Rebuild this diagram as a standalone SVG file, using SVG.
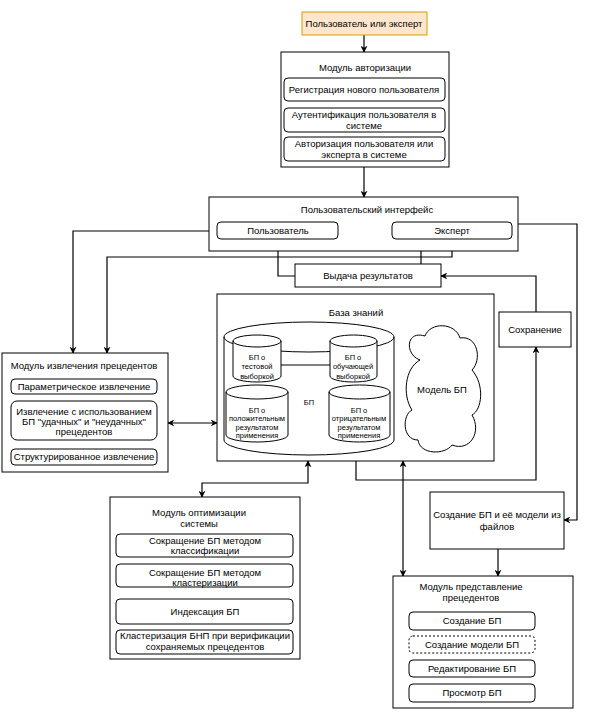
<svg xmlns="http://www.w3.org/2000/svg" width="589" height="714" viewBox="0 0 589 714">
<defs>
<style>
.b{fill:#fff;stroke:#000;stroke-width:1}
.r{fill:#fff;stroke:#000;stroke-width:1}
.d{fill:#fff;stroke:#000;stroke-width:1;stroke-dasharray:2 2}
.c{fill:none;stroke:#000;stroke-width:1.2}
text{font-family:"Liberation Sans",Arial,sans-serif;font-size:9.5px;fill:#000;text-anchor:middle}
.s{font-size:7.5px}
</style>
<marker id="a" viewBox="0 0 10 10" refX="9" refY="5" markerWidth="7" markerHeight="7" orient="auto-start-reverse" markerUnits="userSpaceOnUse">
<path d="M0,0 L10,5 L0,10 L3,5 Z" fill="#000"/>
</marker>
</defs>
<rect width="589" height="714" fill="#fff"/>

<g id="connectors">
<path class="c" d="M364,35 V52" marker-end="url(#a)"/>
<path class="c" d="M364,167 V197" marker-end="url(#a)"/>
<path class="c" d="M217,231 H73 V353" marker-end="url(#a)"/>
<path class="c" d="M452,239 V257 H107 V353" marker-end="url(#a)"/>
<path class="c" d="M295,276 H278 V239" marker-end="url(#a)"/>
<path class="c" d="M421,264 V239" marker-end="url(#a)"/>
<path class="c" d="M536,312 V276 H441" marker-end="url(#a)"/>
<path class="c" d="M356,461 V480 H536 V347" marker-end="url(#a)"/>
<path class="c" d="M518,224 H577 V520 H564" marker-end="url(#a)"/>
<path class="c" d="M168,423 H217" marker-start="url(#a)" marker-end="url(#a)"/>
<path class="c" d="M308,461 V483 H202 V497" marker-start="url(#a)" marker-end="url(#a)"/>
<path class="c" d="M403,461 V576" marker-start="url(#a)" marker-end="url(#a)"/>
<path class="c" d="M498,549 V576" marker-end="url(#a)"/>
</g>

<g id="user-or-expert">
<rect x="302" y="12" width="125" height="23" fill="#ffe6cc" stroke="#d79b00"/>
<text x="364" y="27">Пользователь или эксперт</text>
</g>

<g id="auth-module">
<rect class="b" x="281" y="52" width="168" height="115"/>
<text x="365" y="71">Модуль авторизации</text>
<rect class="r" x="284" y="78" width="161" height="23" rx="4"/>
<text x="364" y="93">Регистрация нового пользователя</text>
<rect class="r" x="284" y="108" width="161" height="24" rx="4"/>
<text x="364" y="118">Аутентификация пользователя в</text>
<text x="364" y="129">системе</text>
<rect class="r" x="284" y="137" width="161" height="24" rx="4"/>
<text x="364" y="147">Авторизация пользователя или</text>
<text x="364" y="158">эксперта в системе</text>
</g>

<g id="ui">
<rect class="b" x="209" y="197" width="309" height="54"/>
<text x="367" y="213">Пользовательский интерфейс</text>
<rect class="r" x="217" y="222" width="121" height="17" rx="4"/>
<text x="278" y="234">Пользователь</text>
<rect class="r" x="392" y="222" width="120" height="17" rx="4"/>
<text x="452" y="234">Эксперт</text>
</g>

<g id="results">
<rect class="b" x="295" y="264" width="146" height="23"/>
<text x="368" y="279">Выдача результатов</text>
</g>

<g id="save">
<rect class="b" x="499" y="312" width="72" height="35"/>
<text x="535" y="333">Сохранение</text>
</g>

<g id="extraction-module">
<rect class="b" x="2" y="353" width="166" height="119"/>
<text x="84" y="369">Модуль извлечения прецедентов</text>
<rect class="r" x="11" y="379" width="146" height="15" rx="4"/>
<text x="84" y="390">Параметрическое извлечение</text>
<rect class="r" x="11" y="401" width="146" height="39" rx="6"/>
<text x="84" y="415">Извлечение с использованием</text>
<text x="84" y="425">БП "удачных" и "неудачных"</text>
<text x="84" y="435">прецедентов</text>
<rect class="r" x="11" y="449" width="146" height="16" rx="4"/>
<text x="84" y="460">Структурированное извлечение</text>
</g>

<g id="knowledge-base">
<rect class="b" x="217" y="294" width="277" height="167"/>
<text x="356" y="316">База знаний</text>
<path class="b" d="M224,337 A85,15 0 0 1 394,337 V440 A85,15 0 0 1 224,440 Z"/>
<path class="c" style="stroke-width:1" d="M224,337 A85,15 0 0 0 394,337"/>
<text x="309" y="405" class="s">БП</text>
<line x1="281" y1="365" x2="330" y2="365" stroke="#000"/>
<path class="b" d="M233,341 A24,6 0 0 1 281,341 V376 A24,6 0 0 1 233,376 Z"/>
<path fill="none" stroke="#000" d="M233,341 A24,6 0 0 0 281,341"/>
<text class="s" x="257" y="360">БП о</text>
<text class="s" x="257" y="369">тестовой</text>
<text class="s" x="257" y="379">выборкой</text>
<path class="b" d="M330,341 A23.5,6 0 0 1 377,341 V376 A23.5,6 0 0 1 330,376 Z"/>
<path fill="none" stroke="#000" d="M330,341 A23.5,6 0 0 0 377,341"/>
<text class="s" x="353" y="360">БП о</text>
<text class="s" x="353" y="369">обучающей</text>
<text class="s" x="353" y="379">выборкой</text>
<path class="b" d="M226,392 A31,7 0 0 1 288,392 V435 A31,7 0 0 1 226,435 Z"/>
<path fill="none" stroke="#000" d="M226,392 A31,7 0 0 0 288,392"/>
<text class="s" x="257" y="413">БП о</text>
<text class="s" x="257" y="421">положительным</text>
<text class="s" x="257" y="430">результатом</text>
<text class="s" x="257" y="438">применения</text>
<path class="b" d="M329,392 A30.5,7 0 0 1 390,392 V435 A30.5,7 0 0 1 329,435 Z"/>
<path fill="none" stroke="#000" d="M329,392 A30.5,7 0 0 0 390,392"/>
<text class="s" x="359" y="413">БП о</text>
<text class="s" x="359" y="421">отрицательным</text>
<text class="s" x="359" y="430">результатом</text>
<text class="s" x="359" y="438">применения</text>
<path class="b" d="M420,360 C405,355 405,330 425,336 C430,322 455,322 460,338 C478,335 482,360 472,370 C485,385 482,410 472,415 C482,432 470,452 452,445 C445,455 420,455 418,440 C402,440 402,415 412,410 C402,395 405,368 420,360 Z"/>
<text x="442" y="393">Модель БП</text>
</g>

<g id="optimization-module">
<rect class="b" x="110" y="497" width="190" height="162"/>
<text x="199" y="516">Модуль оптимизации</text>
<text x="199" y="527">системы</text>
<rect class="r" x="116" y="534" width="177" height="23" rx="4"/>
<text x="205" y="544">Сокращение БП методом</text>
<text x="205" y="554">классификации</text>
<rect class="r" x="116" y="564" width="177" height="23" rx="4"/>
<text x="205" y="576">Сокращение БП методом</text>
<text x="205" y="586">кластеризации</text>
<rect class="r" x="116" y="599" width="177" height="25" rx="4"/>
<text x="205" y="615">Индексация БП</text>
<rect class="r" x="116" y="630" width="177" height="24" rx="4"/>
<text x="205" y="639">Кластеризация БНП при верификации</text>
<text x="205" y="650">сохраняемых прецедентов</text>
</g>

<g id="create-from-files">
<rect class="b" x="430" y="492" width="134" height="57"/>
<text x="497" y="518">Создание БП и её модели из</text>
<text x="497" y="530">файлов</text>
</g>

<g id="representation-module">
<rect class="b" x="393" y="576" width="180" height="132"/>
<text x="471" y="590">Модуль представление</text>
<text x="471" y="601">прецедентов</text>
<rect class="r" x="409" y="612" width="126" height="18" rx="4"/>
<text x="472" y="624">Создание БП</text>
<rect class="d" x="409" y="636" width="126" height="17" rx="4"/>
<text x="472" y="648">Создание модели БП</text>
<rect class="r" x="409" y="660" width="126" height="17" rx="4"/>
<text x="472" y="672">Редактирование БП</text>
<rect class="r" x="409" y="684" width="126" height="18" rx="4"/>
<text x="472" y="696">Просмотр БП</text>
</g>
</svg>
